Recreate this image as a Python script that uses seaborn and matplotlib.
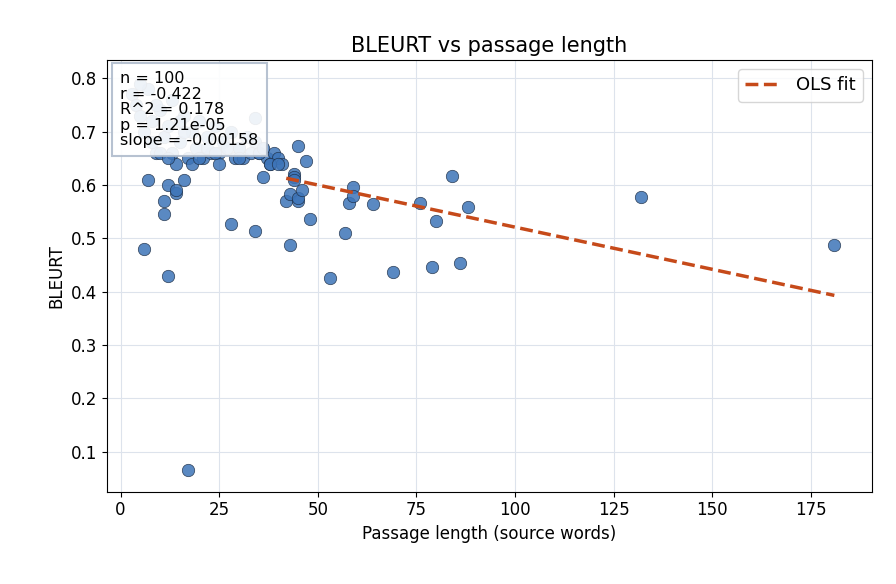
import matplotlib
matplotlib.use("Agg")
import matplotlib.pyplot as plt
import seaborn as sns
import numpy as np
import pandas as pd

length = [6,12,17,11,11,12,14,14,16,7,28,34,43,42,43,44,44,45,45,46,45,47,48,53,57,58,59,59,64,69,76,79,80,84,86,88,132,181,34,34,36,44,
          3,4,5,6,7,8,9,10,11,12,13,14,15,16,17,18,19,20,21,22,23,24,25,26,27,28,29,30,31,32,33,35,37,38,39,40,41,
          5,8,10,13,15,18,20,22,25,30,35,38,9,12,16,24,30,36,40]
bleurt = [0.48,0.43,0.065,0.57,0.545,0.60,0.585,0.59,0.61,0.61,0.527,0.513,0.487,0.57,0.583,0.62,0.615,0.57,0.575,0.59,0.673,0.645,0.537,0.425,0.51,0.567,0.597,0.58,0.565,0.437,0.567,0.446,0.533,0.617,0.453,0.558,0.577,0.488,0.725,0.68,0.615,0.61,
          0.77,0.75,0.73,0.70,0.78,0.72,0.66,0.74,0.69,0.71,0.76,0.64,0.68,0.73,0.65,0.70,0.67,0.72,0.65,0.69,0.66,0.71,0.66,0.68,0.67,0.70,0.65,0.67,0.65,0.69,0.66,0.66,0.65,0.64,0.66,0.65,0.64,
          0.79,0.68,0.66,0.66,0.72,0.64,0.65,0.67,0.64,0.67,0.66,0.64,0.75,0.65,0.70,0.66,0.65,0.67,0.64]

df = pd.DataFrame({"len": length, "bleurt": bleurt})
sns.set_style("whitegrid", {"grid.color": "#dde3ec", "axes.edgecolor": "black",
                            "text.color": "black", "axes.labelcolor": "black",
                            "xtick.color": "black", "ytick.color": "black"})
fig, ax = plt.subplots(figsize=(8.96, 5.84), dpi=100)
fig.subplots_adjust(left=0.119, right=0.973, top=0.897, bottom=0.158)
sns.scatterplot(data=df, x="len", y="bleurt", ax=ax, s=80, color="#3d74b8", alpha=0.85,
                edgecolor="#1a2a40", linewidth=0.5, zorder=3)
slope = -0.00158
icpt = 0.679
xs = np.array([42, 181])
ax.plot(xs, icpt + slope * xs, ls="--", color="#c64a1a", lw=2.5, label="OLS fit", zorder=4)
ax.legend(loc="upper right", fontsize=13, frameon=True)
ax.set_title("BLEURT vs passage length", fontsize=15)
ax.set_xlabel("Passage length (source words)", fontsize=12)
ax.set_ylabel("BLEURT", fontsize=12)
ax.set_xlim(-3.55, 190.5)
ax.set_ylim(0.025, 0.834)
ax.tick_params(labelsize=12, left=True, bottom=True)
for s in ax.spines.values():
    s.set_color("black")
ax.text(0.018, 0.975, "n = 100\nr = -0.422\nR^2 = 0.178\np = 1.21e-05\nslope = -0.00158",
        transform=ax.transAxes, va="top", ha="left", fontsize=11.5, zorder=5, linespacing=1.05,
        bbox=dict(boxstyle="square,pad=0.5", facecolor="white", alpha=0.9, edgecolor="#b0bccc", linewidth=1.5))
fig.savefig("out.png", dpi=100)
